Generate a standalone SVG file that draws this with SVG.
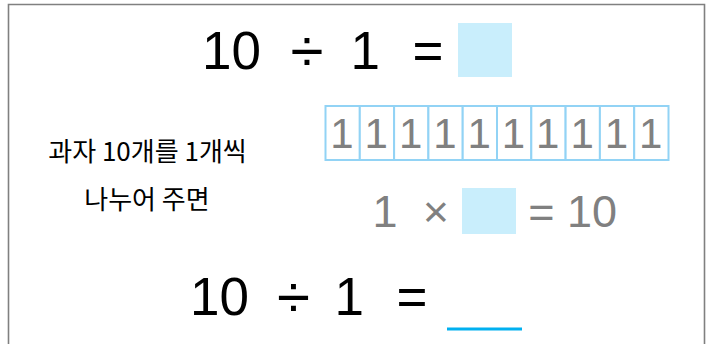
<svg xmlns="http://www.w3.org/2000/svg" width="713" height="344" viewBox="0 0 713 344">
<style>
.eq{font-family:"Liberation Sans",Arial,sans-serif;font-size:53px;fill:#000}
.op{font-family:"Liberation Sans",Arial,sans-serif;font-size:60px;fill:#000;text-anchor:middle}
.gr{font-family:"Liberation Sans",Arial,sans-serif;font-size:45px;fill:#808080}
.cn{font-family:"Liberation Sans",Arial,sans-serif;font-size:42px;fill:#808080;text-anchor:middle}
.kr{font-family:"Noto Sans CJK KR","Noto Sans",sans-serif;font-size:26px;fill:#000;text-anchor:middle}
.blank{fill:#c9eefc}
.cell{fill:#fff;stroke:#92d3f5;stroke-width:2}
</style>
<rect width="713" height="344" fill="#fff"/>
<path d="M8.5,344 V4.5 H704.5 V344" fill="none" stroke="#808080" stroke-width="1.6"/>
<g id="top-equation">
<text class="eq" x="202" y="69">10</text>
<text class="op" x="307" y="71">÷</text>
<text class="eq" x="350.5" y="69">1</text>
<text class="eq" x="428" y="69" text-anchor="middle">=</text>
<rect class="blank" x="458" y="23" width="54" height="54"/>
</g>
<g id="left-label">
<text class="kr" x="147.5" y="161">과자 10개를 1개씩</text>
<text class="kr" x="147" y="209">나누어 주면</text>
</g>
<g id="cells">
<rect class="cell" x="325.5" y="106" width="34.3" height="54"/>
<rect class="cell" x="359.8" y="106" width="34.3" height="54"/>
<rect class="cell" x="394.1" y="106" width="34.3" height="54"/>
<rect class="cell" x="428.4" y="106" width="34.3" height="54"/>
<rect class="cell" x="462.7" y="106" width="34.3" height="54"/>
<rect class="cell" x="497.0" y="106" width="34.3" height="54"/>
<rect class="cell" x="531.3" y="106" width="34.3" height="54"/>
<rect class="cell" x="565.6" y="106" width="34.3" height="54"/>
<rect class="cell" x="599.9" y="106" width="34.3" height="54"/>
<rect class="cell" x="634.2" y="106" width="34.3" height="54"/>
<text class="cn" x="342" y="148">1</text>
<text class="cn" x="376.3" y="148">1</text>
<text class="cn" x="410.6" y="148">1</text>
<text class="cn" x="444.9" y="148">1</text>
<text class="cn" x="479.2" y="148">1</text>
<text class="cn" x="513.5" y="148">1</text>
<text class="cn" x="547.8" y="148">1</text>
<text class="cn" x="582.1" y="148">1</text>
<text class="cn" x="616.4" y="148">1</text>
<text class="cn" x="650.7" y="148">1</text>
</g>
<g id="mult-equation">
<text class="gr" x="372.6" y="227">1</text>
<text class="gr" x="436" y="227" text-anchor="middle">×</text>
<rect class="blank" x="462" y="188" width="54" height="46"/>
<text class="gr" x="541.5" y="227" text-anchor="middle">=</text>
<text class="gr" x="567" y="227">10</text>
</g>
<g id="bottom-equation">
<text class="eq" x="190" y="315">10</text>
<text class="op" x="293.5" y="317">÷</text>
<text class="eq" x="334.5" y="315">1</text>
<text class="eq" x="412" y="315" text-anchor="middle">=</text>
<line x1="447" y1="329" x2="522" y2="329" stroke="#00b0f0" stroke-width="3"/>
</g>
</svg>
